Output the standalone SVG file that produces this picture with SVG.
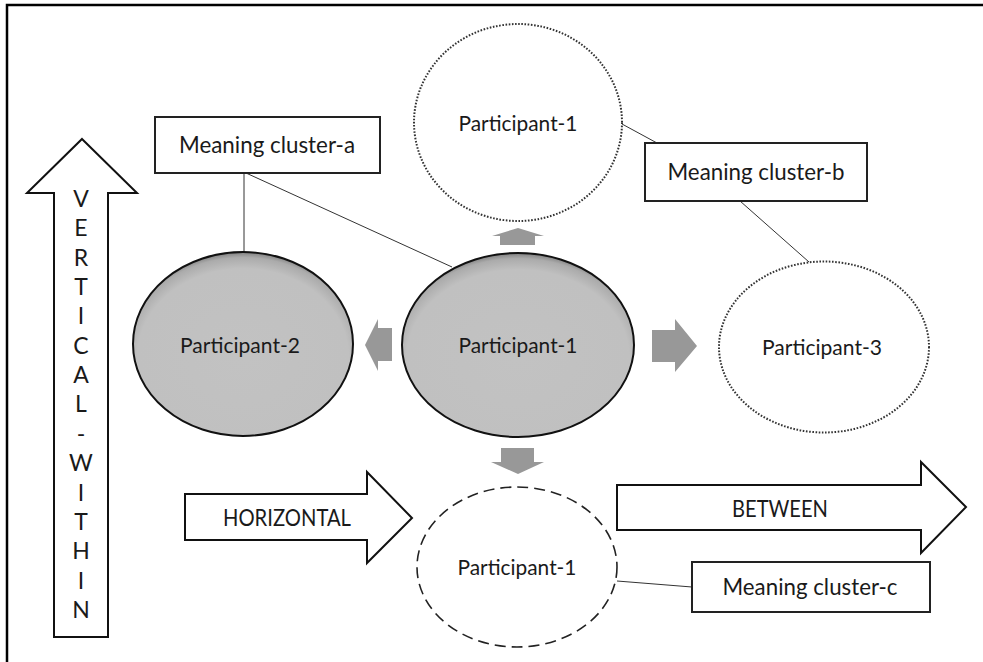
<svg xmlns="http://www.w3.org/2000/svg" width="983" height="662" viewBox="0 0 983 662">
<defs>
<radialGradient id="shade" cx="0.5" cy="0.57" r="0.6">
<stop offset="0" stop-color="#c2c2c2"/>
<stop offset="0.8" stop-color="#c0c0c0"/>
<stop offset="0.9" stop-color="#ababab"/>
<stop offset="1" stop-color="#555555"/>
</radialGradient>
</defs>
<style>
text{font-family:Lato,"Liberation Sans",sans-serif;font-size:23px;fill:#1a1a1a;text-anchor:middle}
.p{font-size:22px}
.box{fill:#fff;stroke:#222;stroke-width:2}
.outline{fill:#fff;stroke:#111;stroke-width:2;stroke-linejoin:miter}
.solid{fill:url(#shade);stroke:#111;stroke-width:2}
.dotted{fill:#fff;stroke:#333;stroke-width:2;stroke-dasharray:1.6 1.6}
.dashed{fill:#fff;stroke:#222;stroke-width:1.6;stroke-dasharray:11 6}
.gray{fill:#989898}
.conn{stroke:#333;stroke-width:1;fill:none}
</style>
<rect width="983" height="662" fill="#fff"/>
<path d="M7,662 V5 H983" fill="none" stroke="#000" stroke-width="2.5"/>

<g id="connectors">
<line class="conn" x1="244" y1="173" x2="244" y2="252"/>
<line class="conn" x1="246" y1="173" x2="452" y2="267"/>
<line class="conn" x1="622" y1="124" x2="657" y2="143"/>
<line class="conn" x1="740" y1="201" x2="809" y2="262"/>
<line class="conn" x1="617" y1="581" x2="692" y2="587"/>
</g>

<g id="vertical-arrow">
<polygon class="outline" points="82,139 137,193 108,193 108,637 54,637 54,193 27,193"/>
<text x="81" y="207">V</text>
<text x="81" y="236">E</text>
<text x="81" y="266">R</text>
<text x="81" y="295">T</text>
<text x="81" y="324">I</text>
<text x="81" y="354">C</text>
<text x="81" y="383">A</text>
<text x="81" y="412">L</text>
<text x="81" y="442">-</text>
<text x="81" y="471">W</text>
<text x="81" y="501">I</text>
<text x="81" y="530">T</text>
<text x="81" y="559">H</text>
<text x="81" y="589">I</text>
<text x="81" y="618">N</text>
</g>

<g id="horizontal-arrow">
<polygon class="outline" points="185,494 367,494 367,472 412,518 367,563 367,540 185,540"/>
<text x="287" y="526" textLength="128" lengthAdjust="spacingAndGlyphs">HORIZONTAL</text>
</g>

<g id="between-arrow">
<polygon class="outline" points="617,485 921,485 921,462 966,507 921,553 921,530 617,530"/>
<text x="780" y="517" textLength="96" lengthAdjust="spacingAndGlyphs">BETWEEN</text>
</g>

<g id="cluster-a">
<rect class="box" x="155" y="117" width="225" height="56"/>
<text x="267" y="153" textLength="176" lengthAdjust="spacingAndGlyphs">Meaning cluster-a</text>
</g>
<g id="cluster-b">
<rect class="box" x="645" y="143" width="222" height="58"/>
<text x="756" y="180" textLength="177" lengthAdjust="spacingAndGlyphs">Meaning cluster-b</text>
</g>
<g id="cluster-c">
<rect class="box" x="692" y="562" width="238" height="50"/>
<text x="810" y="595" textLength="175" lengthAdjust="spacingAndGlyphs">Meaning cluster-c</text>
</g>

<g id="participant-2">
<ellipse class="solid" cx="243" cy="344" rx="110" ry="92"/>
<text class="p" x="240" y="353" textLength="120" lengthAdjust="spacingAndGlyphs">Participant-2</text>
</g>
<g id="participant-1-center">
<ellipse class="solid" cx="518" cy="345" rx="116" ry="92"/>
<text class="p" x="518" y="353" textLength="119" lengthAdjust="spacingAndGlyphs">Participant-1</text>
</g>
<g id="participant-1-top">
<ellipse class="dotted" cx="518" cy="122.5" rx="104" ry="98.5"/>
<text class="p" x="518" y="131" textLength="119" lengthAdjust="spacingAndGlyphs">Participant-1</text>
</g>
<g id="participant-3">
<ellipse class="dotted" cx="824" cy="347" rx="105" ry="85.5"/>
<text class="p" x="822" y="355" textLength="120" lengthAdjust="spacingAndGlyphs">Participant-3</text>
</g>
<g id="participant-1-bottom">
<ellipse class="dashed" cx="517" cy="567" rx="100" ry="80"/>
<text class="p" x="517" y="575" textLength="119" lengthAdjust="spacingAndGlyphs">Participant-1</text>
</g>

<g id="gray-arrows">
<polygon class="gray" points="518,228 544,236 535,236 535,245 500,245 500,236 492,236"/>
<polygon class="gray" points="365,345 378,319 378,328 392,328 392,361 378,361 378,371"/>
<polygon class="gray" points="652,330 675,330 675,319 697,346 675,372 675,362 652,362"/>
<polygon class="gray" points="501,448 534,448 534,462 544,462 518,474 491,462 501,462"/>
</g>
</svg>
